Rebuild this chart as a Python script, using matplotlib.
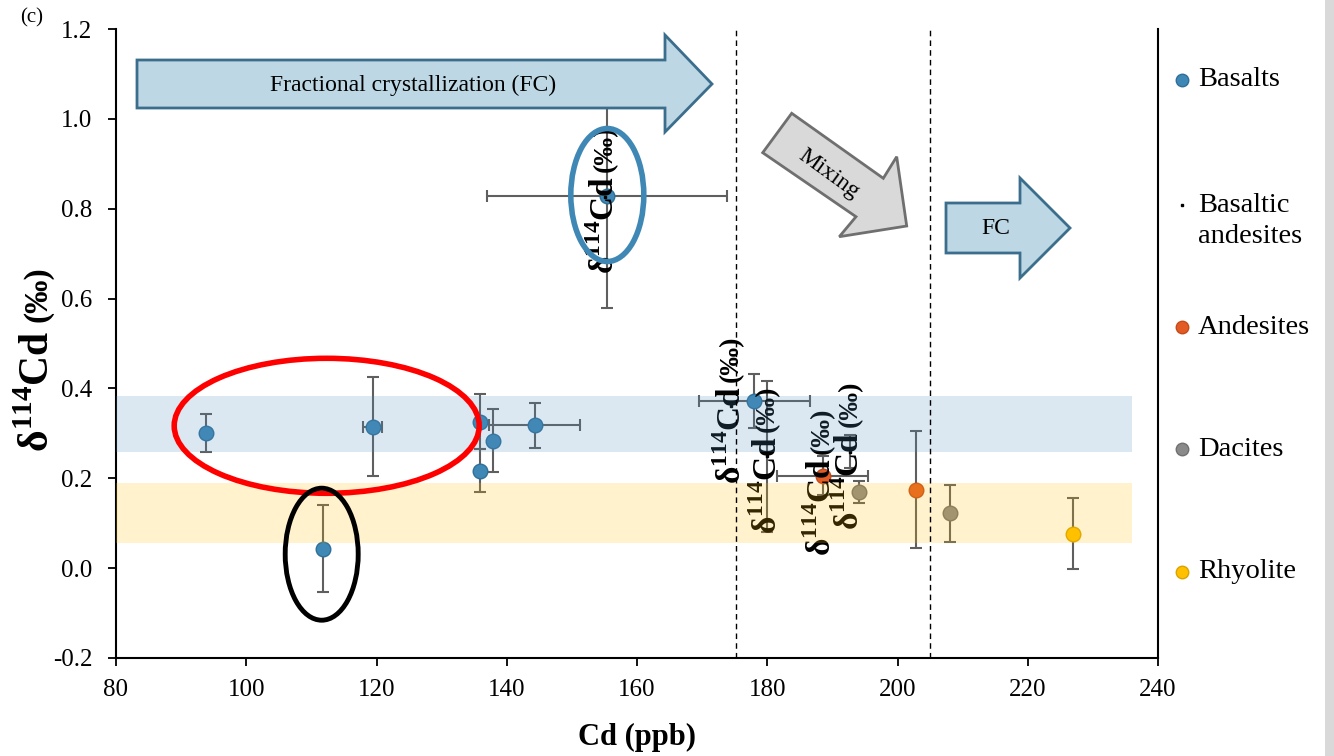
import numpy as np
import matplotlib
matplotlib.use("Agg")
import matplotlib.pyplot as plt
from matplotlib.patches import Ellipse, Polygon, Rectangle
from matplotlib.lines import Line2D

plt.rcParams['font.family'] = ['Liberation Serif', 'DejaVu Serif']
plt.rcParams['mathtext.fontset'] = 'custom'
plt.rcParams['mathtext.rm'] = 'Liberation Serif'
plt.rcParams['mathtext.bf'] = 'Liberation Serif:bold'
plt.rcParams['axes.unicode_minus'] = False

# ---------------- data ----------------
basalt_x = [93.8, 119.4, 135.9, 137.9, 144.3, 135.9, 111.8, 155.4, 178.0]
basalt_y = [0.300, 0.315, 0.326, 0.284, 0.318, 0.217, 0.043, 0.828, 0.373]
basalt_yerr = [0.042, 0.110, 0.061, 0.070, 0.050, 0.048, 0.097, 0.250, 0.060]
basalt_xerr = [0.0, 1.46, 0.0, 0.0, 7.0, 0.0, 0.0, 18.4, 8.5]

bas_and_x = [155.1, 174.5, 180.0, 188.4, 192.7]
bas_and_y = [0.827, 0.360, 0.249, 0.200, 0.259]
bas_and_yerr = [0.0, 0.0, 0.168, 0.0, 0.037]

andesite_x = [188.5, 202.9]
andesite_y = [0.206, 0.175]
andesite_yerr = [0.043, 0.131]
andesite_xerr = [7.0, 0.0]

dacite_x = [194.1, 208.0]
dacite_y = [0.169, 0.122]
dacite_yerr = [0.025, 0.064]

rhyolite_x = [227.0]
rhyolite_y = [0.077]
rhyolite_yerr = [0.080]

band_basalt = (0.258, 0.383)
band_felsic = (0.056, 0.189)
band_xmax = 236.0
boundary_x = [175.2, 205.0]

series_names = ['Basalts', 'Basaltic\nandesites', 'Andesites', 'Dacites', 'Rhyolite']
xticks = [80, 100, 120, 140, 160, 180, 200, 220, 240]
yticks = [-0.2, 0.0, 0.2, 0.4, 0.6, 0.8, 1.0, 1.2]
label_main = r'δ$^{\mathbf{114}}$Cd'
label_unit = '(‰)'

# ---------------- figure ----------------
W, H = 1334, 756
fig = plt.figure(figsize=(W / 100, H / 100), dpi=100)
L, R, B, T = 116, 1158, 658, 29
ax = fig.add_axes([L / W, 1 - B / H, (R - L) / W, (B - T) / H])
ax.set_xlim(80, 240)
ax.set_ylim(-0.2, 1.2)

ecol = '#5f5f5f'
ekw = dict(fmt='none', ecolor=ecol, elinewidth=1.5, capsize=4.5, capthick=1.5, zorder=2)

def draw(xs, ys, yerr, xerr, face, edge, ms=10.5):
    xs = np.asarray(xs); ys = np.asarray(ys)
    ax.errorbar(xs, ys, yerr=yerr, **ekw)
    if xerr is not None:
        xerr = np.asarray(xerr)
        m = xerr > 0
        if m.any():
            ax.errorbar(xs[m], ys[m], xerr=xerr[m], **ekw)
    ax.plot(xs, ys, 'o', ms=ms, mfc=face, mec=edge, mew=1.0, zorder=2.5, linestyle='none')

basalt_c = ('#3f87b5', '#2f6f98')
andes_c = ('#e35b24', '#c44a1c')
dacite_c = ('#8a8a8a', '#707070')
rhyo_c = ('#ffc000', '#d9a300')

def composite(s1, s2, fs1, fs2, gap=4, **kw):
    t1 = ax.annotate(s1, rotation=90, ha='center', va='bottom', fontsize=fs1,
                     fontweight='bold', annotation_clip=False, **kw)
    t2 = ax.annotate(s2, xy=(0.5, 1.0), xycoords=t1, xytext=(0, gap),
                     textcoords='offset points', rotation=90, ha='center', va='bottom',
                     fontsize=fs2, fontweight='bold', annotation_clip=False,
                     zorder=kw.get('zorder', 3))
    return t1, t2

draw(basalt_x, basalt_y, basalt_yerr, basalt_xerr, *basalt_c)
ba_x = np.asarray(bas_and_x); ba_y = np.asarray(bas_and_y); ba_e = np.asarray(bas_and_yerr)
mm = ba_e > 0
ax.errorbar(ba_x[mm], ba_y[mm], yerr=ba_e[mm], **ekw)
ax.plot(ba_x, ba_y, 's', ms=1.5, color='black', zorder=2.5)
for xv, yv in zip(bas_and_x, bas_and_y):
    composite(label_main, label_unit, 24, 20, gap=3, xy=(xv, yv), xytext=(0, -56),
              textcoords='offset points', zorder=2.6)
draw(andesite_x, andesite_y, andesite_yerr, andesite_xerr, *andes_c)
draw(dacite_x, dacite_y, dacite_yerr, None, *dacite_c)
draw(rhyolite_x, rhyolite_y, rhyolite_yerr, None, *rhyo_c)

# bands (semi-transparent, on top of points)
ax.add_patch(Rectangle((80, band_basalt[0]), band_xmax - 80, band_basalt[1] - band_basalt[0],
                       facecolor='#4f8fc0', alpha=0.2, edgecolor='none', zorder=3))
ax.add_patch(Rectangle((80, band_felsic[0]), band_xmax - 80, band_felsic[1] - band_felsic[0],
                       facecolor='#ffc000', alpha=0.2, edgecolor='none', zorder=3))

for bx in boundary_x:
    ax.axvline(bx, color='black', lw=1.0, ls=(0, (4, 3)), zorder=3.5)

# ellipses (pixel -> data helpers)
def px2d(px, py):
    return (80 + (px - L) * 160 / (R - L), 1.2 - (py - T) * 1.4 / (B - T))
def pw(w):
    return w * 160 / (R - L)
def ph(h):
    return h * 1.4 / (B - T)

for (cx, cy, w, h, col, lw) in [(326.7, 425.8, 305, 135, '#ff0000', 4.0),
                                (321.7, 554.2, 73, 132, '#000000', 3.5),
                                (607.3, 195.0, 73, 133, '#3f88b5', 4.0)]:
    ax.add_patch(Ellipse(px2d(cx, cy), pw(w), ph(h), fill=False, edgecolor=col, lw=lw, zorder=5))

def arrow_poly(pts, fc, ec):
    ax.add_patch(Polygon([px2d(*p) for p in pts], closed=True, facecolor=fc, edgecolor=ec,
                         lw=2.0, zorder=5, clip_on=False))

# big FC arrow
arrow_poly([(137, 60), (665, 60), (665, 35), (712, 84), (665, 132), (665, 108), (137, 108)],
           '#bdd7e4', '#3b6d8c')
ax.text(*px2d(413, 85), 'Fractional crystallization (FC)', ha='center', va='center',
        fontsize=17, zorder=6)
# mixing arrow
arrow_poly([(791.7, 113.3), (883.3, 178.3), (896.7, 156.7), (906.7, 226), (839.3, 236.7),
            (856, 216.7), (762.7, 152.7)], '#d9d9d9', '#6f6f6f')
ax.text(*px2d(829, 174), 'Mixing', ha='center', va='center', rotation=-36,
        fontsize=17, zorder=6)
# small FC arrow
arrow_poly([(946, 203), (1020, 203), (1020, 178), (1070, 228), (1020, 278), (1020, 253), (946, 253)],
           '#bdd7e4', '#3b6d8c')
ax.text(*px2d(996, 229), 'FC', ha='center', va='center', fontsize=17, zorder=6)

# axes styling
ax.spines['top'].set_visible(False)
for s in ['left', 'bottom', 'right']:
    ax.spines[s].set_linewidth(1.5)
ax.set_xticks(xticks)
ax.set_yticks(yticks)
ax.set_yticklabels([f'{v:.1f}' for v in yticks])
ax.tick_params(axis='both', direction='out', length=6, width=1.3, labelsize=18)
ax.tick_params(axis='x', pad=9)
ax.tick_params(axis='y', pad=11, right=False)
ax.set_xlabel('Cd (ppb)', fontsize=22, fontweight='bold')
ax.xaxis.label.set_va('center')
ax.xaxis.set_label_coords(0.5, (B - 737) / (B - T))

# y label (two sizes)
yl1 = ax.annotate(label_main, xy=(38 / W, 1 - 452 / H), xycoords='figure fraction',
                  rotation=90, ha='center', va='bottom', fontsize=30, fontweight='bold',
                  annotation_clip=False)
ax.annotate(label_unit, xy=(0.5, 1.0), xycoords=yl1, xytext=(0, 6), textcoords='offset points',
            rotation=90, ha='center', va='bottom', fontsize=24, fontweight='bold',
            annotation_clip=False)

fig.text(20 / W, 1 - 18 / H, '(c)', fontsize=15, ha='left', va='center')

# legend (manual)
leg_y = [80, 205, 327, 449, 572]
leg_cols = [basalt_c, None, andes_c, dacite_c, rhyo_c]
for yy, name, cols in zip(leg_y, series_names, leg_cols):
    if cols is None:
        fig.add_artist(Line2D([1182 / W], [1 - yy / H], marker='s', ms=1.5, color='black',
                              linestyle='none', transform=fig.transFigure))
        fig.text(1198 / W, 1 - (yy + 16) / H, name, fontsize=20.5, ha='left', va='center',
                 linespacing=1.35)
    else:
        fig.add_artist(Line2D([1182 / W], [1 - yy / H], marker='o', ms=9, mfc=cols[0],
                              mec=cols[1], mew=1.0, linestyle='none', transform=fig.transFigure))
        fig.text(1198 / W, 1 - yy / H, name, fontsize=20.5, ha='left', va='center')

fig.add_artist(Rectangle((1325 / W, 0), 9 / W, 1, transform=fig.transFigure,
                         facecolor='#d9d9d9', edgecolor='none'))

fig.savefig('out.png', dpi=100)
